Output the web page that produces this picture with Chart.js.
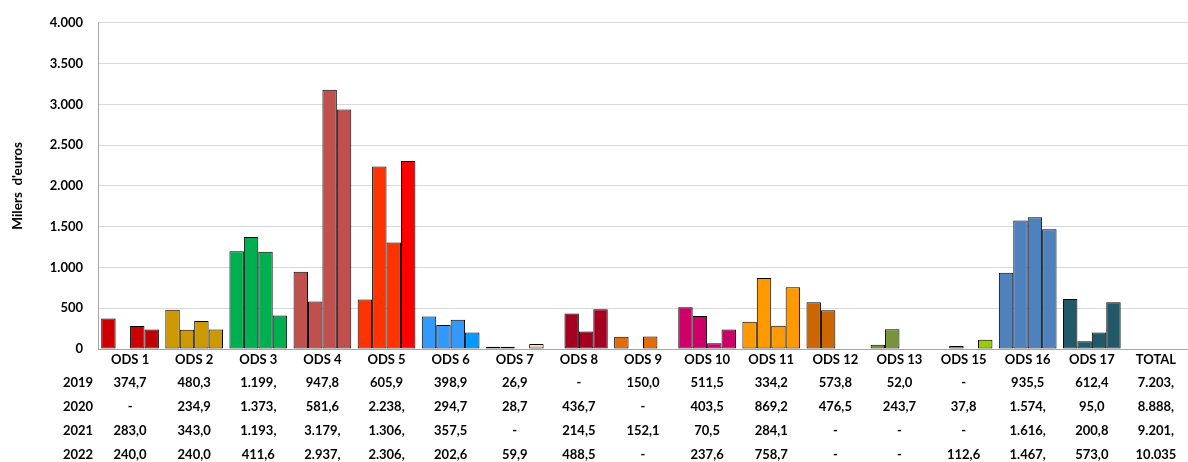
<!DOCTYPE html>
<html>
<head>
<meta charset="utf-8">
<script src="https://cdn.jsdelivr.net/npm/chart.js@4"></script>
<style>
  html, body { margin: 0; padding: 0; background: #fff; }
  #wrap { width: 1188px; height: 462px; position: relative; }
</style>
</head>
<body>
<div id="wrap"><canvas id="odsChart"></canvas></div>
<script>
// Despesa per ODS (milers d'euros), 2019-2022
const categories = ['ODS 1', 'ODS 2', 'ODS 3', 'ODS 4', 'ODS 5', 'ODS 6', 'ODS 7', 'ODS 8', 'ODS 9',
    'ODS 10', 'ODS 11', 'ODS 12', 'ODS 13', 'ODS 15', 'ODS 16', 'ODS 17', 'TOTAL'];
const years = ['2019', '2020', '2021', '2022'];

// null = "-" (sense import); TOTAL només surt a la taula
const values2019 = [374.7, 480.3, 1199.5, 947.8, 605.9, 398.9, 26.9, null, 150.0, 511.5, 334.2, 573.8, 52.0, null, 935.5, 612.4, null];
const values2020 = [null, 234.9, 1373.4, 581.6, 2238.5, 294.7, 28.7, 436.7, null, 403.5, 869.2, 476.5, 243.7, 37.8, 1574.3, 95.0, null];
const values2021 = [283.0, 343.0, 1193.4, 3179.5, 1306.3, 357.5, null, 214.5, 152.1, 70.5, 284.1, null, null, null, 1616.5, 200.8, null];
const values2022 = [240.0, 240.0, 411.6, 2937.3, 2306.4, 202.6, 59.9, 488.5, null, 237.6, 758.7, null, null, 112.6, 1467.2, 573.0, null];
const totals = [7203.4, 8888.5, 9201.2, 10035.4];

const yTicks = [0, 500, 1000, 1500, 2000, 2500, 3000, 3500, 4000];

// colors per category, with a few per-year exceptions
const catColors = ['#CC0000', '#CC9900', '#00B050', '#C0504D', '#FF3300', '#3399FF', '#E6B800', '#A50021', '#E36C09',
    '#CC0066', '#FF9900', '#CC6600', '#77933C', '#8CB84A', '#4F81BD', '#215968', '#999999'];
const yearOverrides = [
    {},
    {},
    {},
    { 0: '#C00000', 4: '#FF0000', 5: '#0099FF', 6: '#FBD5B5', 13: '#99CC00' }
];

const seriesValues = [values2019, values2020, values2021, values2022];

function colorsFor(yearIdx) {
    return catColors.map((c, i) => (yearOverrides[yearIdx][i] || c));
}

function thousands(n) {
    return String(n).replace(/\B(?=(\d{3})+(?!\d))/g, '.');
}

// values in the table are cut to the column width, like the spreadsheet does
function cellText(v) {
    if (v === null) return '-';
    const parts = v.toFixed(1).split('.');
    return (thousands(parts[0]) + ',' + parts[1]).slice(0, 6);
}

const FONT = 'Lato, "Open Sans", sans-serif';

const tablePlugin = {
    id: 'dataTable',
    afterDraw(chart) {
        const c = chart.ctx;
        const x = chart.scales.x;
        const rowY = [383, 407, 431, 455];
        c.save();
        c.font = 'bold 13px ' + FONT;
        c.fillStyle = '#000';
        c.textBaseline = 'middle';
        c.textAlign = 'center';
        years.forEach((yr, r) => {
            c.fillText(yr, 78, rowY[r]);
            categories.forEach((cat, i) => {
                const v = i === categories.length - 1 ? totals[r] : seriesValues[r][i];
                c.fillText(cellText(v), x.getPixelForValue(i), rowY[r]);
            });
        });
        c.restore();
    }
};

const ctx = document.getElementById('odsChart').getContext('2d');

const odsChart = new Chart(ctx, {
    type: 'bar',
    data: {
        labels: categories,
        datasets: years.map((yr, k) => ({
            label: yr,
            data: seriesValues[k],
            backgroundColor: colorsFor(k),
            borderColor: '#000',
            borderWidth: 1,
            borderSkipped: false,
            categoryPercentage: 0.9,
            barPercentage: 1.0
        }))
    },
    options: {
        responsive: true,
        maintainAspectRatio: false,
        animation: false,
        layout: { padding: { top: 14, right: 0, bottom: 0, left: 0 } },
        plugins: {
            legend: { display: false },
            tooltip: { enabled: false }
        },
        scales: {
            x: {
                grid: { display: false, drawTicks: false },
                border: { color: '#A6A6A6', width: 1 },
                ticks: {
                    color: '#000',
                    font: { family: FONT, size: 13, weight: 'bold' },
                    padding: 3,
                    maxRotation: 0,
                    autoSkip: false
                },
                afterFit(scale) { scale.height = 113; }
            },
            y: {
                min: 0,
                max: 4000,
                afterBuildTicks(scale) { scale.ticks = yTicks.map(v => ({ value: v })); },
                grid: { color: '#D9D9D9', drawTicks: false },
                border: { color: '#A6A6A6', width: 1 },
                ticks: {
                    color: '#000',
                    font: { family: FONT, size: 13, weight: 'bold' },
                    padding: 15,
                    callback: v => thousands(v)
                },
                title: {
                    display: true,
                    text: "Milers  d'euros",
                    color: '#000',
                    font: { family: FONT, size: 13.5, weight: 'bold' },
                    padding: { top: 10, bottom: 0 }
                },
                afterFit(scale) { scale.width = 98; }
            }
        }
    },
    plugins: [tablePlugin]
});
</script>
</body>
</html>
